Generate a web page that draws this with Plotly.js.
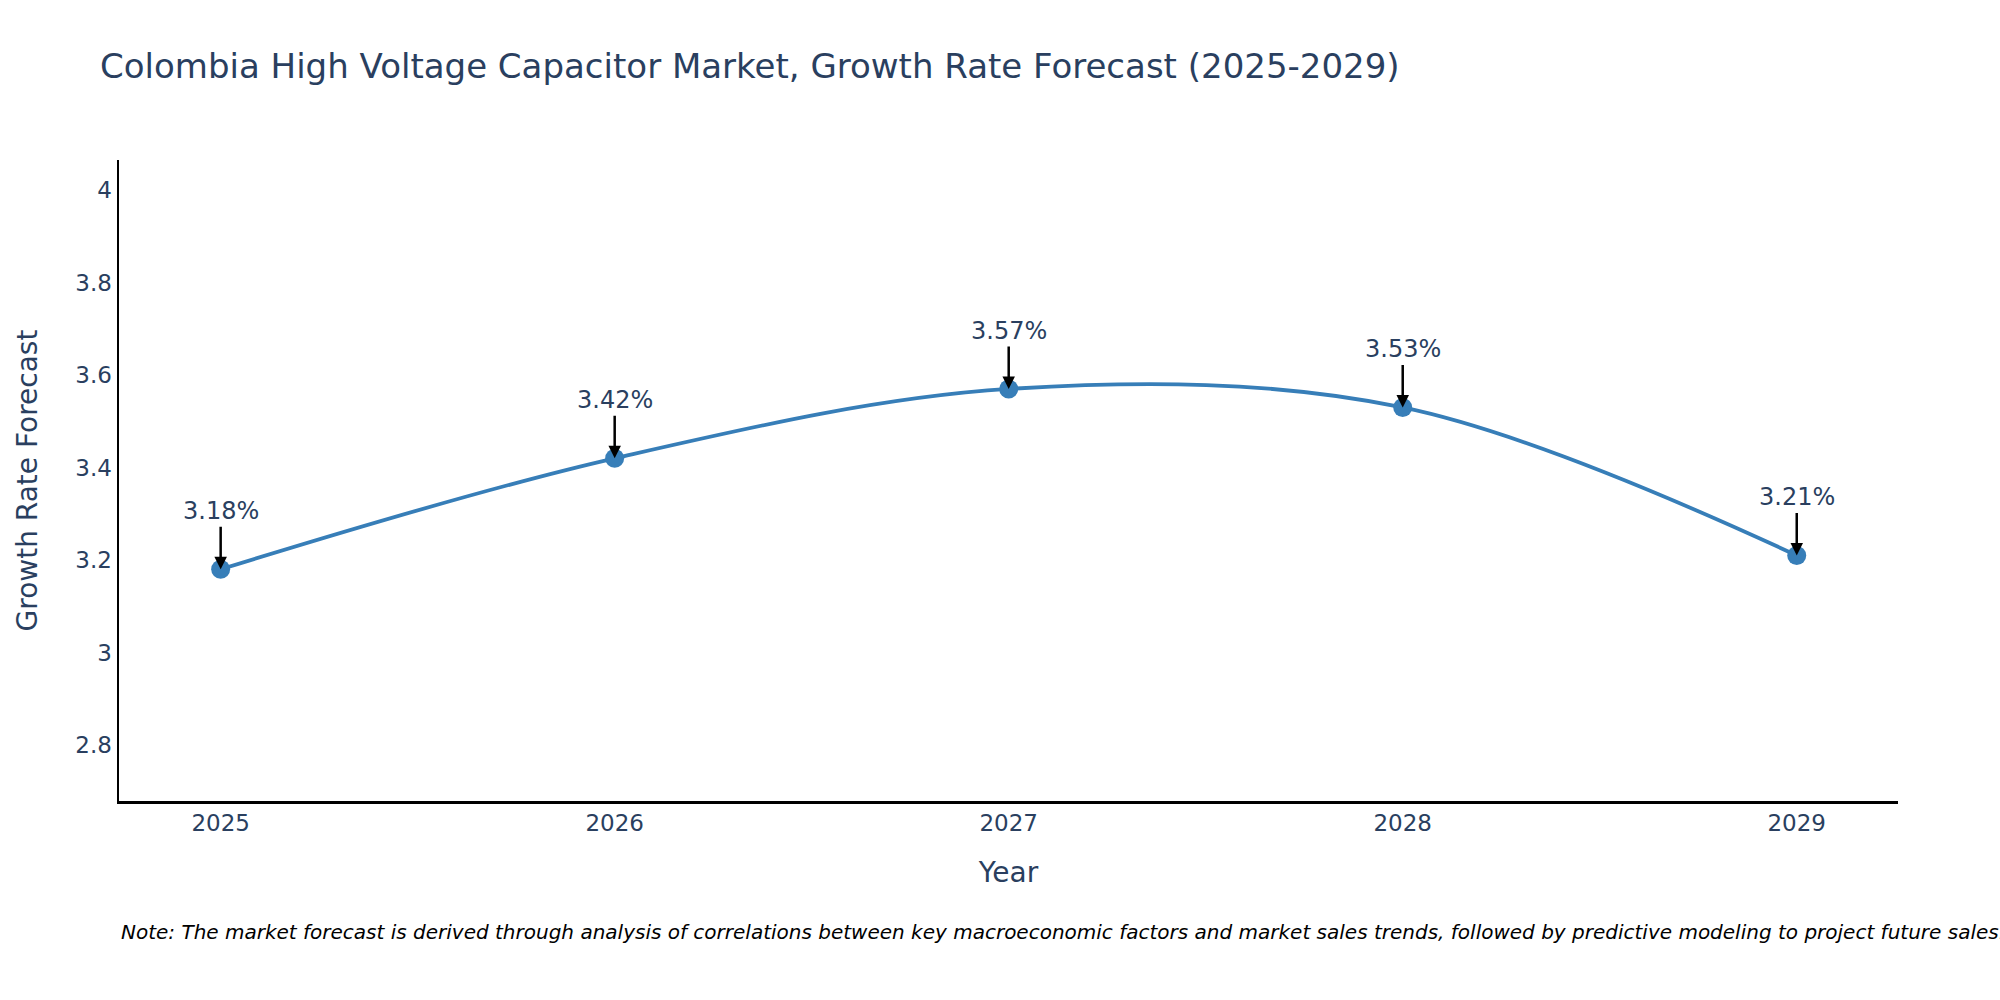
<!DOCTYPE html>
<html>
<head>
<meta charset="utf-8">
<script src="https://cdn.plot.ly/plotly-3.0.1.min.js"></script>
<style>html,body{margin:0;padding:0;background:#fff;}#chart{width:2000px;height:1000px;}</style>
</head>
<body>
<div id="chart"></div>
<script>
const years = [2025, 2026, 2027, 2028, 2029];
const growthRates = [3.18, 3.42, 3.57, 3.53, 3.21];
const yTickVals = [2.8, 3, 3.2, 3.4, 3.6, 3.8, 4];
const yTickText = ['2.8', '3', '3.2', '3.4', '3.6', '3.8', '4'];
const titleText = 'Colombia High Voltage Capacitor Market, Growth Rate Forecast (2025-2029)';
const noteText = 'Note: The market forecast is derived through analysis of correlations between key macroeconomic factors and market sales trends, followed by predictive modeling to project future sales.';

const FONT = 'Verdana, "DejaVu Sans", sans-serif';
const lineColor = '#377eb8';

const trace = {
  x: years,
  y: growthRates,
  type: 'scatter',
  mode: 'lines+markers',
  line: {shape: 'spline', color: lineColor, width: 3.8},
  marker: {size: 19, color: lineColor},
  hoverinfo: 'x+y'
};

const annotations = years.map((yr, i) => ({
  x: yr,
  y: growthRates[i],
  xref: 'x',
  yref: 'y',
  text: growthRates[i].toFixed(2) + '%',
  showarrow: true,
  arrowhead: 2,
  arrowsize: 1,
  arrowwidth: 2.5,
  arrowcolor: '#000000',
  ax: 0,
  ay: -58,
  standoff: 0,
  font: {family: FONT, size: 24, color: '#2a3f5f'}
}));

annotations.push({
  xref: 'paper',
  yref: 'paper',
  x: 0,
  y: -0.205,
  xanchor: 'left',
  yanchor: 'middle',
  showarrow: false,
  align: 'left',
  text: '<i>' + noteText + '</i>',
  font: {family: FONT, size: 20, color: '#000000'}
});

const layout = {
  width: 2000,
  height: 1000,
  paper_bgcolor: '#ffffff',
  plot_bgcolor: '#ffffff',
  margin: {l: 119, r: 102, t: 160, b: 199},
  font: {family: FONT, color: '#2a3f5f'},
  title: {
    text: titleText,
    x: 0.05,
    xanchor: 'left',
    y: 0.934,
    yanchor: 'middle',
    font: {family: FONT, size: 34, color: '#2a3f5f'}
  },
  xaxis: {
    title: {text: 'Year', font: {family: FONT, size: 28, color: '#2a3f5f'}, standoff: 28},
    range: [2024.742, 2029.257],
    tickvals: years,
    ticktext: years.map(String),
    tickfont: {family: FONT, size: 23, color: '#2a3f5f'},
    showline: true,
    linecolor: '#000000',
    linewidth: 2.5,
    showgrid: false,
    zeroline: false,
    ticks: ''
  },
  yaxis: {
    title: {text: 'Growth Rate Forecast', font: {family: FONT, size: 28, color: '#2a3f5f'}, standoff: 30},
    range: [2.679, 4.065],
    tickvals: yTickVals,
    ticktext: yTickText,
    tickfont: {family: FONT, size: 23, color: '#2a3f5f'},
    showline: true,
    linecolor: '#000000',
    linewidth: 2.5,
    showgrid: false,
    zeroline: false,
    ticks: ''
  },
  showlegend: false,
  annotations: annotations
};

Plotly.newPlot('chart', [trace], layout, {displayModeBar: false, staticPlot: true});
</script>
</body>
</html>
